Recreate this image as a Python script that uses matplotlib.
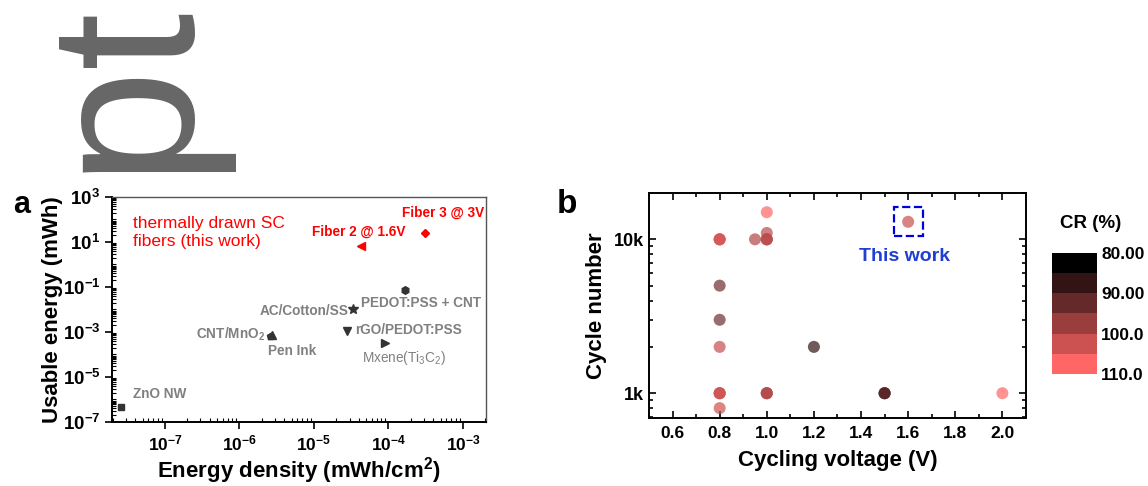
import numpy as np
import matplotlib
matplotlib.use("Agg")
import matplotlib.pyplot as plt
from matplotlib.colors import LinearSegmentedColormap, Normalize
from matplotlib.ticker import FixedLocator, LogLocator, FuncFormatter, MultipleLocator, NullFormatter
from matplotlib.patches import Rectangle
import matplotlib.colorbar as mcolorbar

plt.rcParams['font.family'] = ['Liberation Sans', 'DejaVu Sans']
plt.rcParams['mathtext.fontset'] = 'custom'
plt.rcParams['mathtext.rm'] = 'Liberation Sans'
plt.rcParams['mathtext.it'] = 'Liberation Sans:italic'
plt.rcParams['mathtext.bf'] = 'Liberation Sans:bold'

# ---- panel a : usable energy vs energy density
ref_names = ["ZnO NW", "CNT/MnO$_2$", "Pen Ink", "AC/Cotton/SS",
             "PEDOT:PSS + CNT", "rGO/PEDOT:PSS", r"Mxene($\mathrm{Ti_3C_2}$)"]
ref_density = [2.6e-8, 2.7e-6, 2.6e-6, 3.3e-5, 1.66e-4, 2.75e-5, 9.1e-5]
ref_energy = [4.8e-7, 7.4e-4, 6.8e-4, 1.0e-2, 7.4e-2, 1.1e-3, 3.4e-4]
ref_markers = ['s', '^', 'p', '*', 'h', 'v', '>']
ref_msize = [4.5, 6, 5, 7.5, 5.5, 6, 5.5]

fiber_names = ["Fiber 2 @ 1.6V", "Fiber 3 @ 3V"]
fiber_density = [4.3e-5, 3.1e-4]
fiber_energy = [6.9, 24.5]
fiber_markers = ['<', 'D']
fiber_msize = [6, 4.3]

# ---- panel b : cycle number vs cycling voltage, colour = capacitance retention (CR)
# repeated entries = several reports sharing the same voltage / cycle count
cyc_voltage = [0.8, 0.8, 0.8, 0.8, 0.8, 0.8, 0.8, 0.8, 0.8, 0.8,
               0.95, 1.0, 1.0, 1.0, 1.0, 1.0, 1.0, 1.0, 1.0,
               1.2, 1.5, 1.5, 1.5, 2.0]
cyc_number = [10000, 10000, 10000, 5000, 3000, 2000, 1000, 1000, 1000, 800,
              10000, 15000, 11000, 10000, 10000, 10000, 1000, 1000, 1000,
              2000, 1000, 1000, 1000, 1000]
cyc_cr = [105, 105, 105, 93.5, 93.5, 103, 104, 104, 104, 104,
          101, 110, 102, 102, 102, 102, 101, 101, 101,
          86, 90, 90, 90, 110]
this_voltage = 1.6
this_number = 13000
this_cr = 103.5

cr_levels = [80, 85, 90, 95, 100, 105, 110]
cr_ticks = [80, 90, 100, 110]
cr_ticklabels = ["80.00", "90.00", "100.0", "110.0"]

cmap = LinearSegmentedColormap.from_list("cr", ["#000000", "#ff6666"])

fig = plt.figure(figsize=(11.48, 4.86), dpi=100)

# big clipped grey glyphs in the corner
fig.text(0.1577, 0.646, "pt", rotation=90, rotation_mode='anchor', ha='left',
         va='baseline', fontsize=150, color='#666666')

# ===================== panel a
ax = fig.add_axes([0.0976, 0.1317, 0.3258, 0.463])
for i in range(len(ref_names)):
    ax.plot(ref_density[i], ref_energy[i], marker=ref_markers[i], color='#333333',
            markersize=ref_msize[i], linestyle='none')
for i in range(len(fiber_names)):
    ax.plot(fiber_density[i], fiber_energy[i], marker=fiber_markers[i], color='#ff0000',
            markersize=fiber_msize[i], linestyle='none')

ax.set_xscale('log')
ax.set_yscale('log')
ax.set_xlim(1.95e-8, 2.04e-3)
ax.set_ylim(1e-7, 1e3)

ax.xaxis.set_major_locator(FixedLocator([1e-7, 1e-6, 1e-5, 1e-4, 1e-3]))
ax.xaxis.set_minor_locator(LogLocator(base=10, subs=np.arange(2, 10), numticks=100))
ax.yaxis.set_major_locator(FixedLocator([1e-7, 1e-5, 1e-3, 1e-1, 1e1, 1e3]))
ax.yaxis.set_minor_locator(LogLocator(base=10, subs=np.arange(1, 10), numticks=100))
logfmt = FuncFormatter(lambda v, p: r'$\mathbf{10^{%d}}$' % int(round(np.log10(v))))
ax.xaxis.set_major_formatter(logfmt)
ax.yaxis.set_major_formatter(logfmt)
ax.xaxis.set_minor_formatter(NullFormatter())
ax.yaxis.set_minor_formatter(NullFormatter())
ax.tick_params(which='major', direction='out', length=5, width=1.2,
               top=False, right=False)
ax.tick_params(axis='x', which='major', labelsize=12.5)
ax.tick_params(axis='y', which='major', labelsize=13.5)
ax.tick_params(which='minor', direction='in', length=3, width=0.8, top=False, right=False)
for s in ['left', 'bottom']:
    ax.spines[s].set_linewidth(1.4)
for s in ['top', 'right']:
    ax.spines[s].set_linewidth(1.0)
    ax.spines[s].set_color('#555555')

ax.set_xlabel("Energy density (mWh/cm$^\\mathbf{2}$)", fontsize=16, fontweight='bold', va='center')
ax.xaxis.set_label_coords(0.5, -0.218)
ax.set_ylabel("Usable energy (mWh)", fontsize=16, fontweight='bold', va='center')
ax.yaxis.set_label_coords(-0.16, 0.5)

gray = '#808080'
lab_kw = dict(transform=ax.transAxes, fontsize=9.8, color=gray, va='baseline')
ax.text(0.056, 0.107, "ZnO NW", fontweight='bold', **lab_kw)
ax.text(0.2246, 0.372, "CNT/MnO$_\\mathbf{2}$", fontweight='bold', **lab_kw)
ax.text(0.417, 0.299, "Pen Ink", fontweight='bold', **lab_kw)
ax.text(0.631, 0.474, "AC/Cotton/SS", fontweight='bold', ha='right', **lab_kw)
ax.text(0.666, 0.509, "PEDOT:PSS + CNT", fontweight='bold', **lab_kw)
ax.text(0.649, 0.392, "rGO/PEDOT:PSS", fontweight='bold', **lab_kw)
ax.text(0.668, 0.267, r"Mxene($\mathrm{Ti_3C_2}$)", **lab_kw)

ax.text(0.056, 0.842, "thermally drawn SC\nfibers (this work)", transform=ax.transAxes,
        fontsize=12.5, color='#ff0000', va='center', ha='left')
ax.text(0.535, 0.828, fiber_names[0], transform=ax.transAxes, fontsize=9.8,
        fontweight='bold', color='#ff0000', va='baseline')
ax.text(0.775, 0.912, fiber_names[1], transform=ax.transAxes, fontsize=9.8,
        fontweight='bold', color='#ff0000', va='baseline')

fig.text(0.011, 0.5617, "a", fontsize=22, fontweight='bold', va='baseline', ha='left')

# ===================== panel b
bx = fig.add_axes([0.5653, 0.1399, 0.3284, 0.463])
norm = Normalize(vmin=80, vmax=110)
bx.scatter(cyc_voltage, cyc_number, c=cyc_cr, cmap=cmap, norm=norm, s=75,
           alpha=0.7, edgecolors='none', zorder=3)
bx.scatter([this_voltage], [this_number], c=[this_cr], cmap=cmap, norm=norm, s=75,
           alpha=0.7, edgecolors='none', zorder=3)

bx.set_yscale('log')
bx.set_xlim(0.5, 2.1)
bx.set_ylim(690, 20000)
bx.xaxis.set_major_locator(MultipleLocator(0.2))
bx.xaxis.set_minor_locator(MultipleLocator(0.1))
bx.xaxis.set_major_formatter(FuncFormatter(lambda v, p: "%.1f" % v))
bx.yaxis.set_major_locator(FixedLocator([1000, 10000]))
bx.yaxis.set_major_formatter(FuncFormatter(lambda v, p: "%dk" % int(round(v / 1000))))
bx.yaxis.set_minor_locator(LogLocator(base=10, subs=np.arange(2, 10), numticks=100))
bx.yaxis.set_minor_formatter(NullFormatter())
bx.tick_params(which='both', direction='in', top=True, right=True, width=1.2)
bx.tick_params(which='major', length=5)
bx.tick_params(which='minor', length=3)
bx.tick_params(axis='x', which='major', labelsize=12.5, pad=6)
bx.tick_params(axis='y', which='major', labelsize=13)
for lab in bx.get_xticklabels() + bx.get_yticklabels():
    lab.set_fontweight('bold')
for lab in ax.get_xticklabels() + ax.get_yticklabels():
    lab.set_fontweight('bold')
for s in bx.spines.values():
    s.set_linewidth(1.4)

bx.set_xlabel("Cycling voltage (V)", fontsize=16, fontweight='bold', va='center')
bx.xaxis.set_label_coords(0.5, -0.187)
bx.set_ylabel("Cycle number", fontsize=16, fontweight='bold', va='center')
bx.yaxis.set_label_coords(-0.138, 0.5)

# dashed highlight box around this work
bw = 0.124
fy = 10 ** 0.094
bx.add_patch(Rectangle((this_voltage - bw / 2, this_number / fy), bw,
                       this_number * fy - this_number / fy, fill=False,
                       edgecolor='#0000dd', linestyle='--', linewidth=1.6, zorder=4))
bx.text(0.679, 0.717, "This work", transform=bx.transAxes, fontsize=14,
        fontweight='bold', color='#1f3fd0', ha='center', va='center')

fig.text(0.485, 0.5617, "b", fontsize=24, fontweight='bold', va='baseline', ha='left')

# colour scale
cax = fig.add_axes([0.9164, 0.2305, 0.0392, 0.249])
cb = mcolorbar.ColorbarBase(cax, cmap=cmap.resampled(6), norm=norm,
                            boundaries=cr_levels, orientation='vertical')
cb.outline.set_visible(False)
cax.invert_yaxis()
cb.set_ticks(cr_ticks)
cb.set_ticklabels(cr_ticklabels)
cax.tick_params(length=0, labelsize=12.5, pad=3)
for lab in cax.get_yticklabels():
    lab.set_fontweight('bold')
fig.text(0.9504, 0.541, "CR (%)", fontsize=13.5, fontweight='bold', ha='center', va='center')

fig.savefig("out.png", dpi=100)
